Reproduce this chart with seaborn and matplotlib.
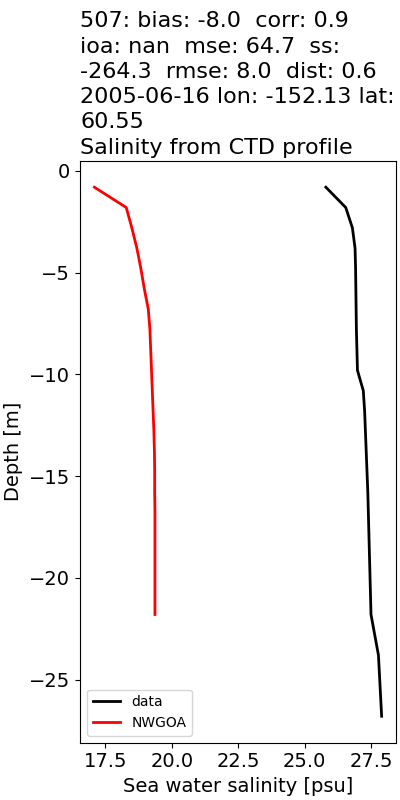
#!/usr/bin/env python3
"""Salinity profile: CTD cast vs NWGOA model, station 507."""

import matplotlib
matplotlib.use("Agg")
import matplotlib.pyplot as plt
import seaborn as sns

# ---------------------------------------------------------------------------
# Data
# ---------------------------------------------------------------------------
data_depth = [-0.8, -1.8, -2.8, -3.8, -4.8, -5.8, -6.8, -7.8, -8.8, -9.8,
              -10.8, -11.8, -12.8, -13.8, -14.8, -15.8, -16.8, -17.8, -18.8,
              -19.8, -20.8, -21.8, -22.8, -23.8, -24.8, -25.8, -26.8]
data_salt = [25.80, 26.55, 26.80, 26.90, 26.92, 26.93, 26.94, 26.95, 26.97,
             26.99, 27.21, 27.26, 27.29, 27.32, 27.35, 27.38, 27.40, 27.42,
             27.44, 27.46, 27.48, 27.50, 27.64, 27.78, 27.82, 27.86, 27.90]

model_depth = [-0.8, -1.8, -2.8, -3.8, -4.8, -5.8, -6.8, -7.8, -8.8, -9.8,
               -10.8, -11.8, -12.8, -13.8, -14.8, -15.8, -16.8, -17.8, -18.8,
               -19.8, -20.8, -21.8]
model_salt = [17.09, 18.29, 18.50, 18.69, 18.84, 18.97, 19.12, 19.18, 19.21,
              19.24, 19.27, 19.30, 19.33, 19.35, 19.36, 19.36, 19.37, 19.37,
              19.37, 19.37, 19.37, 19.37]

TITLE = ("507: bias: -8.0  corr: 0.9\n"
         "ioa: nan  mse: 64.7  ss:\n"
         "-264.3  rmse: 8.0  dist: 0.6\n"
         "2005-06-16 lon: -152.13 lat:\n"
         "60.55\n"
         "Salinity from CTD profile")


def main():
    fig = plt.figure(figsize=(4, 8), dpi=100)
    ax = fig.add_axes([0.2, 0.0716, 0.79, 0.7275])

    # estimator=None so repeated salinities are not averaged together
    sns.lineplot(x=data_salt, y=data_depth, sort=False, estimator=None,
                 color="black", linewidth=2, label="data", ax=ax)
    sns.lineplot(x=model_salt, y=model_depth, sort=False, estimator=None,
                 color="red", linewidth=2, label="NWGOA", ax=ax)

    ax.set_xlabel("Sea water salinity [psu]", fontsize=14)
    ax.set_ylabel("Depth [m]", fontsize=14)
    ax.tick_params(labelsize=14)
    ax.set_title(TITLE, loc="left", fontsize=16, linespacing=1.33, pad=5)
    ax.legend(loc="lower left", fontsize=10)

    fig.savefig("out.png", dpi=100)
    plt.close(fig)


if __name__ == "__main__":
    main()
